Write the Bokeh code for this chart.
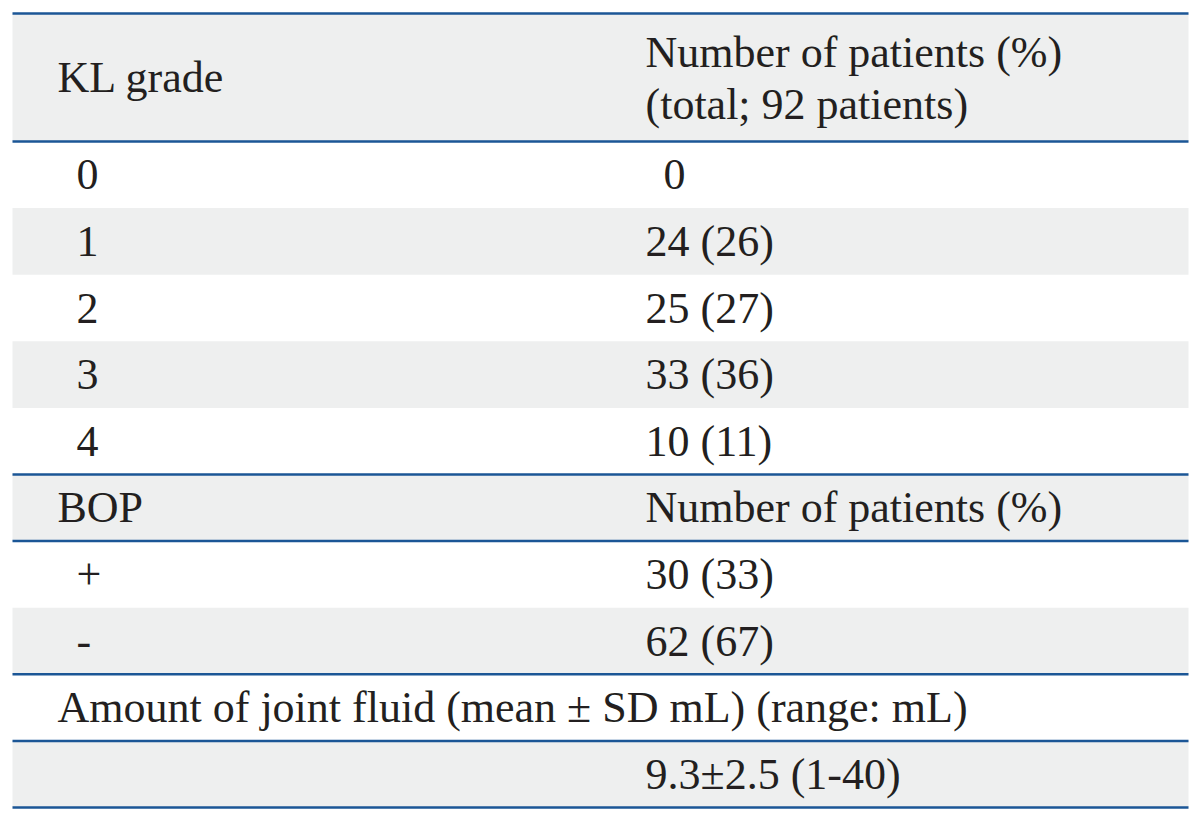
from bokeh.plotting import figure
from bokeh.models import ColumnDataSource, Range1d
from bokeh.core.properties import value
from bokeh.embed import file_html
from bokeh.resources import INLINE

# ---- data ----
header_left = "KL grade"
header_right = ["Number of patients (%)", "(total; 92 patients)"]
kl_grades = ["0", "1", "2", "3", "4"]
kl_counts = [0, 24, 25, 33, 10]
kl_pcts = [None, 26, 27, 36, 11]
bop_header = ["BOP", "Number of patients (%)"]
bop_labels = ["+", "-"]
bop_counts = [30, 62]
bop_pcts = [33, 67]
fluid_header = "Amount of joint fluid (mean \u00b1 SD mL) (range: mL)"
fluid_mean = 9.3
fluid_sd = 2.5
fluid_range = [1, 40]

# ---- layout ----
W, H = 1192, 813
p = figure(width=W, height=H, output_backend="svg", toolbar_location=None,
           x_range=Range1d(0, W), y_range=Range1d(H, 0),
           min_border=0, outline_line_color=None)
p.axis.visible = False
p.grid.visible = False
p.background_fill_color = "white"
p.border_fill_color = "white"

X0, X1 = 12, 1188
TOP, HEAD_BOT = 13, 141
ROW_H = (807 - 141) / 10.0
GRAY = "#eeefef"
BLUE = "#1b5696"
TXT = "#231f20"
FONT = value("'Liberation Serif', 'Times New Roman', Tinos, serif")
FS = "44px"

def row_top(i):
    return HEAD_BOT + i * ROW_H

# row fills
tops, bots = [TOP], [HEAD_BOT]
for i in range(10):
    if i % 2 == 1:
        tops.append(row_top(i)); bots.append(row_top(i + 1))
p.quad(left=X0, right=X1, top=tops, bottom=bots, fill_color=GRAY, line_color=None)

# rules
rule_ys = [TOP, HEAD_BOT, row_top(5), row_top(6), row_top(8), row_top(9), row_top(10)]
p.segment(x0=X0, x1=X1, y0=rule_ys, y1=rule_ys, line_color=BLUE, line_width=2.5)

texts, xs, ys = [], [], []
def add(t, x, y):
    texts.append(t); xs.append(x); ys.append(y)

LX, LX2, RX, RX2 = 57, 76, 645, 663
add(header_left, LX, (TOP + HEAD_BOT) / 2)
add(header_right[0], RX, 52)
add(header_right[1], RX, 104)
for i, (g, n, pc) in enumerate(zip(kl_grades, kl_counts, kl_pcts)):
    yc = row_top(i) + ROW_H / 2
    add(g, LX2, yc)
    if pc is None:
        add(str(n), RX2, yc)
    else:
        add(f"{n} ({pc})", RX, yc)
add(bop_header[0], LX, row_top(5) + ROW_H / 2)
add(bop_header[1], RX, row_top(5) + ROW_H / 2)
for j, (b, n, pc) in enumerate(zip(bop_labels, bop_counts, bop_pcts)):
    yc = row_top(6 + j) + ROW_H / 2
    add(b, LX2, yc)
    add(f"{n} ({pc})", RX, yc)
add(fluid_header, LX, row_top(8) + ROW_H / 2)
add(f"{fluid_mean}\u00b1{fluid_sd} ({fluid_range[0]}-{fluid_range[1]})", RX, row_top(9) + ROW_H / 2)

src = ColumnDataSource(dict(x=xs, y=ys, t=texts))
p.text(x="x", y="y", text="t", source=src, text_font=FONT, text_font_size=FS,
       text_color=TXT, text_align="left", text_baseline="middle")

open("out.html", "w").write(file_html(p, INLINE))
